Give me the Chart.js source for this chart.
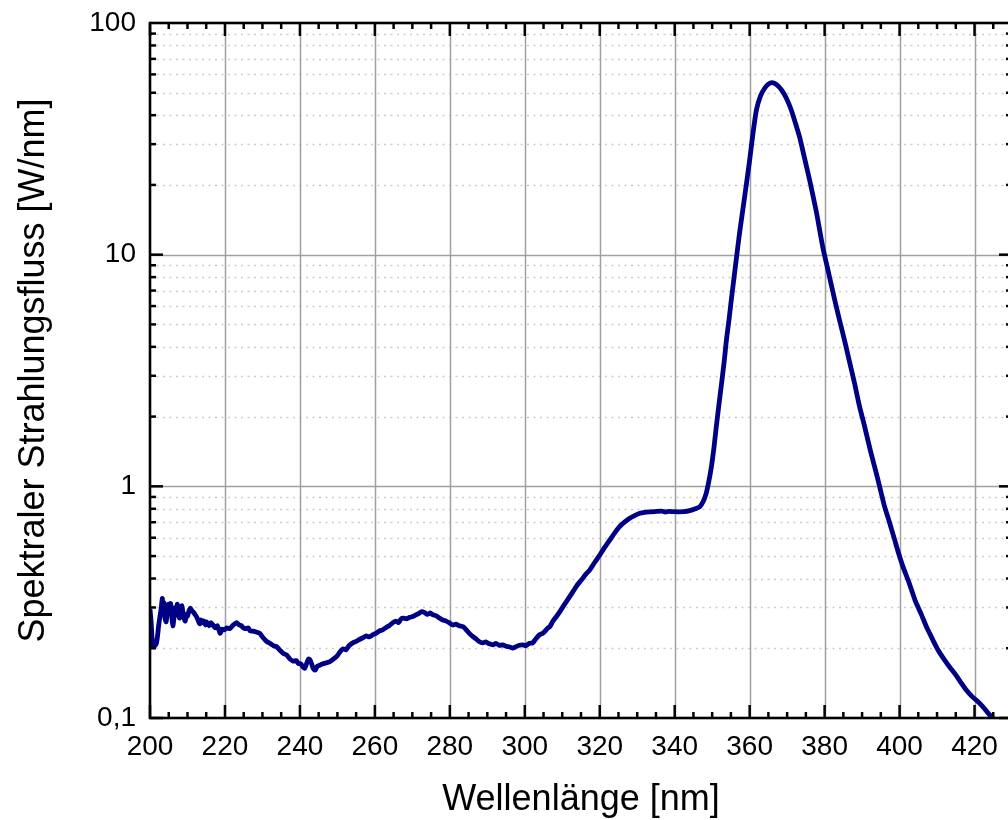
<!DOCTYPE html>
<html><head><meta charset="utf-8">
<script src="https://cdn.jsdelivr.net/npm/chart.js@4/dist/chart.umd.min.js"></script>
<style>
html,body{margin:0;padding:0;background:#fff;overflow:hidden;}
#wrap{width:1008px;height:820px;overflow:hidden;position:relative;background:#fff;}
canvas{display:block;}
</style></head><body>
<div id="wrap"><canvas id="c" width="1016" height="820"></canvas></div>
<script>
// ---- data ----
const wavelengths = [
200.0,200.3,200.6,200.9,201.3,201.7,202.0,202.3,202.6,202.9,203.1,203.3,203.5,203.7,204.0,204.3,204.6,204.9,205.2,205.5,
205.8,206.1,206.4,206.7,207.0,207.3,207.6,207.9,208.2,208.5,208.8,209.1,209.4,209.7,210.0,210.4,210.8,211.2,211.6,212.0,
212.5,213.0,213.3,213.6,214.0,214.4,214.8,215.1,215.8,216.3,216.8,217.4,218.0,218.7,219.2,219.8,
220.5,221.3,222.0,222.6,223.1,223.8,224.4,224.8,225.5,226.2,226.7,227.5,228.3,229.3,230.2,231.1,232.0,233.0,233.8,234.8,
235.6,236.5,237.3,238.2,239.0,239.6,240.3,240.8,241.3,241.8,242.3,242.7,243.2,243.6,244.1,244.6,245.3,246.0,247.0,248.0,
249.0,250.0,250.7,251.5,252.3,253.1,254.1,255.0,255.8,256.8,257.7,258.5,259.5,260.5,261.3,262.1,263.0,263.8,264.8,265.6,
266.3,267.0,267.5,268.5,269.3,270.1,271.0,271.8,272.5,273.3,274.0,274.8,275.5,276.4,277.2,278.1,279.0,279.8,280.8,281.6,
282.5,283.5,284.3,285.2,286.1,286.9,287.8,288.8,289.6,290.5,291.5,292.3,293.2,294.1,295.0,295.8,296.8,297.6,298.5,299.5,
300.3,301.2,302.1,302.8,303.5,304.0,304.8,305.5,306.2,306.7,307.5,308.5,309.5,310.5,311.5,312.9,314.0,315.2,316.3,317.3,
318.6,320.0,321.3,322.7,324.0,325.3,326.6,328.0,329.3,330.7,332.0,333.5,335.1,336.5,337.5,338.5,339.5,341.0,342.5,344.0,
345.5,346.7,347.6,348.4,349.1,349.8,350.5,351.1,351.8,352.5,353.2,353.8,354.5,355.1,356.2,357.3,358.6,360.0,360.9,361.8,
362.9,364.0,365.0,366.0,367.2,368.5,369.8,371.1,372.2,373.3,374.6,376.0,377.8,379.5,381.1,382.7,384.0,385.3,386.7,388.0,
389.3,390.7,392.2,393.8,395.0,396.0,397.3,398.7,399.8,400.9,402.5,404.2,405.8,407.3,408.9,410.3,411.8,413.3,414.8,416.3,
417.8,419.3,420.8,422.2,423.4,424.5,425.5,426.5
];
const flux = [
0.295,0.26,0.215,0.203,0.205,0.21,0.225,0.25,0.27,0.29,0.31,0.328,0.30,0.315,0.27,0.26,0.285,0.31,0.29,0.312,
0.275,0.25,0.27,0.30,0.285,0.31,0.28,0.27,0.295,0.305,0.285,0.27,0.262,0.28,0.275,0.29,0.298,0.29,0.286,0.28,
0.272,0.26,0.255,0.265,0.258,0.262,0.252,0.26,0.25,0.258,0.252,0.245,0.25,0.232,0.242,0.24,
0.245,0.243,0.25,0.255,0.258,0.252,0.25,0.246,0.243,0.245,0.238,0.237,0.235,0.232,0.222,0.214,0.21,0.205,0.203,0.195,
0.19,0.187,0.18,0.176,0.177,0.172,0.171,0.166,0.164,0.172,0.18,0.178,0.17,0.163,0.161,0.167,0.169,0.171,0.173,0.175,
0.18,0.186,0.193,0.199,0.197,0.205,0.211,0.214,0.218,0.222,0.226,0.224,0.229,0.233,0.238,0.24,0.246,0.25,0.258,0.262,
0.258,0.268,0.27,0.268,0.272,0.274,0.279,0.283,0.288,0.285,0.28,0.284,0.279,0.276,0.27,0.265,0.262,0.258,0.252,0.254,
0.25,0.248,0.241,0.232,0.225,0.22,0.214,0.211,0.213,0.209,0.207,0.21,0.206,0.207,0.204,0.203,0.2005,0.203,0.206,0.207,
0.205,0.21,0.211,0.218,0.225,0.229,0.232,0.238,0.245,0.248,0.262,0.275,0.29,0.308,0.325,0.352,0.375,0.396,0.418,0.435,
0.468,0.505,0.545,0.587,0.63,0.67,0.70,0.728,0.748,0.765,0.772,0.776,0.78,0.782,0.775,0.779,0.777,0.776,0.777,0.785,
0.80,0.817,0.86,0.933,1.05,1.216,1.48,1.807,2.25,2.78,3.45,4.28,5.25,6.37,8.9,12.37,17.5,25.6,33.5,42.1,
48.5,52.3,54.5,55.3,54.2,51.4,47.3,42.1,37.0,32.3,26.3,21.0,15.3,10.8,8.3,6.37,5.2,4.28,3.42,2.78,
2.22,1.807,1.43,1.138,0.95,0.817,0.70,0.587,0.51,0.450,0.385,0.32,0.28,0.245,0.217,0.196,0.18,0.1665,0.155,0.143,
0.132,0.124,0.118,0.112,0.106,0.1013,0.097,0.093
];
const xTickValues = [200,220,240,260,280,300,320,340,360,380,400,420];
const yTickValues = [0.1,1,10,100];
const yTickLabels = ["0,1","1","10","100"];
const xTitle = "Wellenlänge [nm]";
const yTitle = "Spektraler Strahlungsfluss [W/nm]";

const FONT = "'Liberation Sans', Arial, Helvetica, sans-serif";

function hline(ctx,x1,x2,y){ctx.beginPath();ctx.moveTo(x1,y);ctx.lineTo(x2,y);ctx.stroke();}
function vline(ctx,x,y1,y2){ctx.beginPath();ctx.moveTo(x,y1);ctx.lineTo(x,y2);ctx.stroke();}

const framePlugin = {
  id: 'frame',
  beforeDatasetsDraw(chart){
    const {ctx, chartArea:a, scales:{x,y}} = chart;
    ctx.save();
    ctx.strokeStyle = '#cccccc'; ctx.lineWidth = 1.3; ctx.setLineDash([2,4.5]);
    for (let e=-1;e<2;e++) for (let m=2;m<=9;m++){
      const py = Math.round(y.getPixelForValue(m*Math.pow(10,e)))+0.5;
      hline(ctx,a.left,a.right,py);
    }
    ctx.setLineDash([]);
    ctx.strokeStyle = '#a0a0a0'; ctx.lineWidth = 1.5;
    xTickValues.forEach(v=>{
      if (v===200) return;
      const px = Math.round(x.getPixelForValue(v))+0.5;
      vline(ctx,px,a.top,a.bottom);
    });
    [1,10].forEach(v=>{
      const py = Math.round(y.getPixelForValue(v))+0.5;
      hline(ctx,a.left,a.right,py);
    });
    ctx.restore();
  },
  afterDatasetsDraw(chart){
    const {ctx, chartArea:a, scales:{x,y}} = chart;
    ctx.save();
    ctx.strokeStyle = '#000'; ctx.lineWidth = 2.5;
    for (let v=200; v<=430; v+=5){
      const px = x.getPixelForValue(v);
      const len = (v%20===0) ? 13 : 6;
      vline(ctx,px,a.bottom,a.bottom-len);
      vline(ctx,px,a.top,a.top+len);
    }
    for (let e=-1;e<2;e++) for (let m=1;m<=9;m++){
      const py = y.getPixelForValue(m*Math.pow(10,e));
      const len = (m===1) ? 13 : 6;
      hline(ctx,a.left,a.left+len,py);
      hline(ctx,a.right,a.right-len,py);
    }
    ctx.lineWidth = 2.6;
    ctx.strokeRect(a.left, a.top, a.right-a.left, a.bottom-a.top);
    ctx.restore();
  }
};

const points = wavelengths.map((w,i)=>({x:w, y:flux[i]}));

new Chart(document.getElementById('c'), {
  type: 'line',
  data: { datasets: [{
    data: points,
    borderColor: '#000085',
    borderWidth: 4.8,
    pointRadius: 0,
    tension: 0.2,
    fill: false
  }]},
  options: {
    responsive: false,
    animation: false,
    devicePixelRatio: 1,
    layout: { padding: { top: 23, right: 4, left: 0, bottom: 0 } },
    plugins: { legend: { display: false }, tooltip: { enabled: false } },
    scales: {
      x: {
        type: 'linear', min: 200, max: 430,
        grid: { display: false, drawTicks: false },
        border: { display: false },
        afterBuildTicks: s => { s.ticks = xTickValues.map(v => ({value: v})); },
        ticks: {
          padding: 12, color: '#000', maxRotation: 0, autoSkip: false,
          font: { family: FONT, size: 28 },
          callback: v => String(v)
        },
        title: { display: true, text: xTitle, color: '#000',
                 font: { family: FONT, size: 36, lineHeight: 1 },
                 padding: { top: 0, bottom: 2 } },
        afterFit: s => { s.height = 102; s.paddingLeft = 0; s.paddingRight = 0; s.paddingTop = 0; s.paddingBottom = 0; }
      },
      y: {
        type: 'logarithmic', min: 0.1, max: 100,
        grid: { display: false, drawTicks: false },
        border: { display: false },
        afterBuildTicks: s => { s.ticks = yTickValues.map(v => ({value: v, major: true})); },
        ticks: {
          padding: 14, color: '#000', autoSkip: false,
          font: { family: FONT, size: 28 },
          callback: (v, i) => yTickLabels[i]
        },
        title: { display: true, text: yTitle, color: '#000',
                 font: { family: FONT, size: 36, lineHeight: 1 },
                 padding: { top: 16, bottom: 0 } },
        afterFit: s => { s.width = 150; s.paddingLeft = 0; s.paddingRight = 0; s.paddingTop = 0; s.paddingBottom = 0; }
      }
    }
  },
  plugins: [framePlugin]
});
</script>
</body></html>
